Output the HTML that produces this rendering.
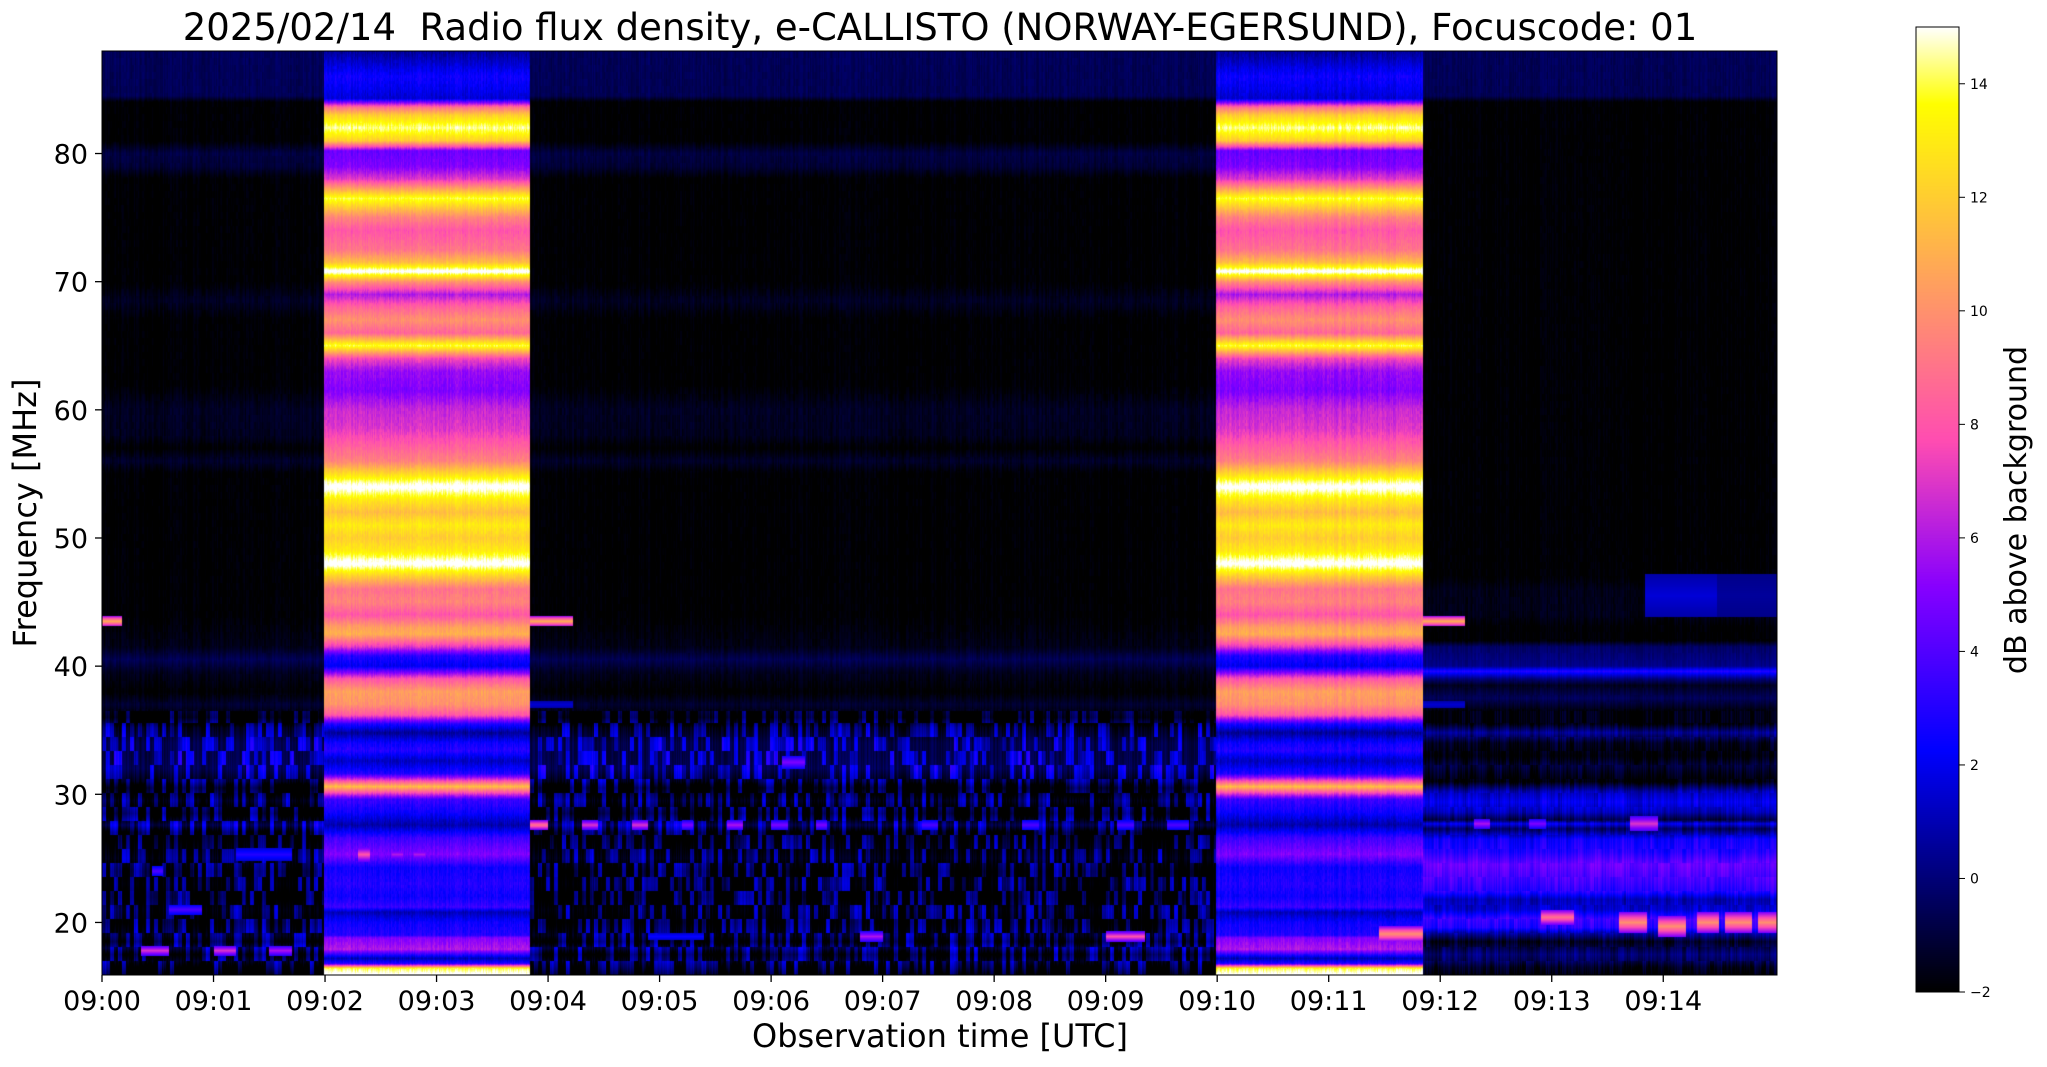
<!DOCTYPE html>
<html><head><meta charset="utf-8"><style>
html,body{margin:0;padding:0;background:#fff;}
#wrap{position:relative;width:2047px;height:1067px;overflow:hidden;background:#fff;font-family:"DejaVu Sans","Liberation Sans",sans-serif;}
svg text{font-family:"DejaVu Sans","Liberation Sans",sans-serif;}
canvas{position:absolute;}
</style></head><body>
<div id="wrap">
<canvas id="spec" width="1675" height="924" style="left:102px;top:51px;"></canvas>
<canvas id="cbar" width="43" height="965" style="left:1916px;top:27px;"></canvas>
<svg id="ax" width="2047" height="1067" style="position:absolute;left:0;top:0">
<text x="940" y="40" font-size="37" text-anchor="middle" xml:space="preserve">2025/02/14  Radio flux density, e-CALLISTO (NORWAY-EGERSUND), Focuscode: 01</text>
<text x="940" y="1047" font-size="32" text-anchor="middle">Observation time [UTC]</text>
<text x="36" y="513" font-size="32" text-anchor="middle" transform="rotate(-90 36 513)">Frequency [MHz]</text>
<text x="2026" y="510" font-size="30" text-anchor="middle" transform="rotate(-90 2026 510)">dB above background</text>
<g id="xt"></g>
<g id="yt"></g>
<g id="ct"></g>
<rect x="102" y="51" width="1675" height="924" fill="none" stroke="#000" stroke-width="1"/>
<rect x="1916" y="27" width="43" height="965" fill="none" stroke="#000" stroke-width="1"/>
</svg>
</div>
<script>
// axes ranges
const tMin = 0, tMax = 15.02;      // minutes after 09:00
const fMin = 15.9, fMax = 88.0;    // MHz
const vMin = -2, vMax = 15;        // dB
const xTickLabels = ["09:00","09:01","09:02","09:03","09:04","09:05","09:06","09:07","09:08","09:09","09:10","09:11","09:12","09:13","09:14"];
const yTicks = [20,30,40,50,60,70,80];
const cTicks = [-2,0,2,4,6,8,10,12,14];
// burst intervals (minutes)
const burstStart = [1.99, 9.99];
const burstEnd = [3.84, 11.85];
// burst spectral profile
const burstFreqs = [88,87,86,85,84.3,83.6,83,82,81,80.2,79,78,76.5,75,74,72.5,71.5,70.8,70,69,68,67,66,65,64,63,61.5,60,58.5,57,56,55,54,53,52,51,50,49,48,47,46,45,44,43,42.5,41.5,40.8,40,39,38,37,36.2,35.5,34.8,34,33.4,32.6,31.6,30.6,29.6,28.6,27.6,26.6,25.3,24.3,23,22,21.2,20.8,20,19,18.8,17.9,17.2,16.8,16.4,15.9];
const burstDb   = [0.5,1.5,2.5,2,1.5,9,12,14.5,12,4.5,5,7,14,9.5,8,9,11.5,15.5,10,6,8.5,10,8.5,14,7.5,5.5,5,6.5,7,8.5,9.5,12.5,15.5,13,11.5,13,12,13,15.5,12,9,9.5,8,10.5,11,7,3,2,8,10.5,10,8,3,0.5,2.5,3,1.2,3,11.5,3.5,2.5,0.8,3.5,5,2.5,3,2.5,3.5,1,2.5,3,5,6,1,3,14,15.5];
// quiet background profile (before 09:12)
const bgFreqs = [88,84.5,84,81,80,79,78,70,68.5,67,62,60,58,57,56,55,44,41.5,40.5,39.5,38,37,36,35.2,34,33,32,31,30.5,29.5,28.5,27.6,27,26,25,24,23,22,21,20,19,18.5,18,17.5,17,16.5,15.9];
const bgDb    = [-0.5,-0.6,-2,-2,-0.9,-1.1,-2,-2,-1.4,-2,-2,-1.4,-1.5,-2,-1.3,-2,-2,-1.6,-0.6,-1.5,-2,-1.2,-2,0,0.8,0.8,1,0,-1.5,0,-1.2,0.8,-1,-0.5,0,-0.8,-0.5,-0.9,-0.3,-0.7,0,-0.8,0.5,-0.8,0,-0.8,-2];
// late profile (after 09:12)
const lateFreqs = [88,84.5,84,47,46,44,43,42,41.5,40,39.6,39,38.5,37.5,36.5,35.5,34.8,34,33,32.2,31,30.2,29.4,28.6,28,27.7,27.3,26.5,25.5,24.5,23,22.4,21.8,21,20.3,19.6,19.2,18.5,17.5,17,16.5,15.9];
const lateDb    = [-0.5,-0.6,-2,-2,-1.6,-1.6,-2,-2,-0.3,0.3,3,0,-1.5,-0.5,-1.8,-1.8,0.5,-1.5,-2,-1,-2,1,2,1,-1,2,-0.5,2.5,3,4.5,3.5,3,1,1.5,3.5,3,1,-1.5,0,-0.5,-1.5,-2];
// short spot features: [tStart, tEnd, freq, halfWidth MHz, dB]
const spots = [
 [0,0.18,43.5,0.4,11],[3.84,4.22,43.5,0.4,11],[11.85,12.22,43.5,0.4,11],
 [3.84,4.22,37,0.3,1.5],[11.85,12.22,37,0.3,1.5],
 [3.84,4.0,27.6,0.4,9],[4.3,4.45,27.6,0.4,7],[4.75,4.9,27.6,0.4,7],[5.2,5.3,27.6,0.4,5],[5.6,5.75,27.6,0.4,6],[6.0,6.15,27.6,0.4,5],[6.4,6.5,27.6,0.4,5],[7.35,7.5,27.6,0.4,4],[8.25,8.4,27.6,0.4,4],[9.1,9.25,27.6,0.4,4],[9.55,9.75,27.6,0.4,4],
 [12.3,12.45,27.7,0.4,6],[12.8,12.95,27.7,0.4,5],[13.7,13.95,27.7,0.6,7],
 [1.2,1.7,25.3,0.5,3],[2.3,2.4,25.3,0.6,8],[2.6,2.7,25.3,0.5,6],[2.8,2.9,25.3,0.5,6],
 [9.0,9.35,18.9,0.4,8],[6.8,7.0,18.9,0.4,6],[4.9,5.4,18.9,0.3,2.5],[0.35,0.6,17.8,0.4,7],[1.0,1.2,17.8,0.4,7],[1.5,1.7,17.8,0.4,6],[0.6,0.9,21,0.4,4],[0.45,0.55,24,0.4,4],[6.1,6.3,32.5,0.5,5],
 [11.45,11.85,19.1,0.6,10],[12.9,13.2,20.4,0.6,9],[13.6,13.85,20.0,0.8,10],[13.95,14.2,19.7,0.8,10],[14.3,14.5,20.0,0.8,10],[14.55,14.8,20.0,0.8,10],[14.85,15.02,20.0,0.8,10],
 [13.84,14.48,45.5,1.7,1.6],[14.48,15.02,45.5,1.7,0.6]
];
function interp(xs, ys, f){
  for(let i=0;i<xs.length-1;i++){
    if(f<=xs[i] && f>=xs[i+1]){const u=(xs[i]-f)/(xs[i]-xs[i+1]);return ys[i]+(ys[i+1]-ys[i])*u;}
  }
  return ys[ys.length-1];
}
function cmap(v){ // gnuplot2
  let x=(v-vMin)/(vMax-vMin); x=Math.max(0,Math.min(1,x));
  let r=Math.min(1,Math.max(0,x/0.32-0.78125));
  let g=Math.min(1,Math.max(0,2*x-0.84));
  let b; if(x<0.25)b=4*x; else if(x<0.42)b=1; else if(x<0.92)b=-2*x+1.84; else b=x/0.08-11.5;
  b=Math.min(1,Math.max(0,b));
  return [r*255|0,g*255|0,b*255|0];
}
function h(a,b){let n=Math.sin(a*127.1+b*311.7)*43758.5453;return n-Math.floor(n);} // texture only
const W=1675,H=924;
const xOf=t=>(t-tMin)/(tMax-tMin)*W;
const yOf=f=>(fMax-f)/(fMax-fMin)*H;
(function(){
  const c=document.getElementById('spec').getContext('2d');
  const img=c.createImageData(W,H);
  const rowB=[],rowG=[],rowL=[];
  for(let y=0;y<H;y++){const f=fMax-(y+0.5)/H*(fMax-fMin);rowB.push(interp(burstFreqs,burstDb,f));rowG.push(interp(bgFreqs,bgDb,f));rowL.push(interp(lateFreqs,lateDb,f));}
  const colN=[];for(let x=0;x<W;x++)colN.push(h(x,0.3));
  for(let x=0;x<W;x++){
    const t=tMin+(x+0.5)/W*(tMax-tMin);
    let inB=false;for(let k=0;k<burstStart.length;k++)if(t>=burstStart[k]&&t<burstEnd[k])inB=true;
    const late=t>=burstEnd[1];
    for(let y=0;y<H;y++){
      const f=fMax-(y+0.5)/H*(fMax-fMin);
      let v;
      if(inB){v=rowB[y]+(colN[x]-0.5)*0.8+(h(x,Math.floor(y/3))-0.5)*0.6;}
      else{
        const base=late?rowL[y]:rowG[y];
        const lowBand=f<36.5;
        if(lowBand){
          const cell=h(Math.floor(x/4),Math.floor(y/14));
          v=base+(colN[x]-0.5)*1.0+(late?(cell-0.5)*1.0:(cell>0.6?(cell-0.6)*6-0.3:-1.6));
        } else {
          v=base+(colN[x]-0.5)*0.5+(h(Math.floor(x/2),Math.floor(y/7))-0.5)*0.3;
        }
      }
      for(const s of spots){if(t>=s[0]&&t<s[1]&&Math.abs(f-s[2])<s[3]){v=Math.max(v,s[4]*(1-0.5*Math.abs(f-s[2])/s[3]));}}
      const col=cmap(v);const i=(y*W+x)*4;
      img.data[i]=col[0];img.data[i+1]=col[1];img.data[i+2]=col[2];img.data[i+3]=255;
    }
  }
  c.putImageData(img,0,0);
  const cb=document.getElementById('cbar').getContext('2d');
  for(let y=0;y<965;y++){const v=vMax-(y+0.5)/965*(vMax-vMin);const col=cmap(v);cb.fillStyle=`rgb(${col[0]},${col[1]},${col[2]})`;cb.fillRect(0,y,43,1);}
  const NS='http://www.w3.org/2000/svg';
  const xt=document.getElementById('xt');
  xTickLabels.forEach((lab,i)=>{
    const x=102+xOf(i);
    const l=document.createElementNS(NS,'line');
    
    
    l.setAttribute('x1',x);l.setAttribute('x2',x);l.setAttribute('y1',975);l.setAttribute('y2',982);l.setAttribute('stroke','#000');l.setAttribute('stroke-width','1.3');xt.appendChild(l);
    const tx=document.createElementNS(NS,'text');
    
    
    tx.setAttribute('x',x);tx.setAttribute('y',1010);tx.setAttribute('font-size','27');tx.setAttribute('text-anchor','middle');tx.textContent=lab;xt.appendChild(tx);
  });
  const yt=document.getElementById('yt');
  yTicks.forEach(v=>{
    const y=51+yOf(v);
    const l=document.createElementNS(NS,'line');
    
    
    l.setAttribute('x1',95);l.setAttribute('x2',102);l.setAttribute('y1',y);l.setAttribute('y2',y);l.setAttribute('stroke','#000');l.setAttribute('stroke-width','1.3');yt.appendChild(l);
    const tx=document.createElementNS(NS,'text');
    
    
    tx.setAttribute('x',88);tx.setAttribute('y',y+10);tx.setAttribute('font-size','27');tx.setAttribute('text-anchor','end');tx.textContent=String(v);yt.appendChild(tx);
  });
  const ct=document.getElementById('ct');
  cTicks.forEach(v=>{
    const y=27+(vMax-v)/(vMax-vMin)*965;
    const l=document.createElementNS(NS,'line');
    
    
    l.setAttribute('x1',1959);l.setAttribute('x2',1965);l.setAttribute('y1',y);l.setAttribute('y2',y);l.setAttribute('stroke','#000');ct.appendChild(l);
    const tx=document.createElementNS(NS,'text');
    
    
    tx.setAttribute('x',1970);tx.setAttribute('y',y+5);tx.setAttribute('font-size','14');tx.textContent=(v<0?'\u2212'+(-v):String(v));ct.appendChild(tx);
  });
})();
</script>
</body></html>
